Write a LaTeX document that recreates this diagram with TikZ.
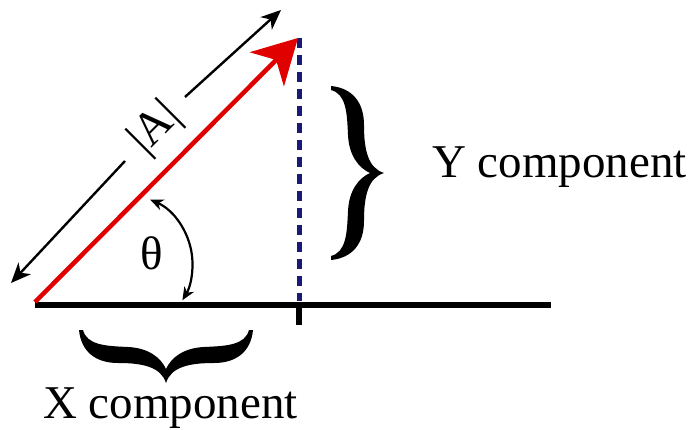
\documentclass[tikz,border=0pt]{standalone}
\usepackage{fontspec}
\setmainfont{Liberation Serif}
\usetikzlibrary{arrows.meta}
\definecolor{vecred}{RGB}{224,0,0}
\definecolor{dashblue}{RGB}{25,25,120}
\tikzset{
  curlybrace/.pic={
    \fill (0,87) .. controls (21,85) and (33,71) .. (33,48)
      .. controls (33,23) and (37,5) .. (53,0)
      .. controls (37,-5) and (33,-23) .. (33,-48)
      .. controls (33,-71) and (21,-85) .. (0,-87)
      -- (0,-83) .. controls (15,-79) and (16,-61) .. (17,-38)
      .. controls (18,-17) and (28,-5) .. (39,0)
      .. controls (28,5) and (18,17) .. (17,38)
      .. controls (16,61) and (15,79) .. (0,83) -- cycle;
  }
}
\begin{document}
\begin{tikzpicture}[x=1pt,y=1pt,
  lbl/.style={inner sep=0pt, font=\fontsize{47}{56}\selectfont},
  axisline/.style={line width=6pt},
  magarrow/.style={line width=2.4pt, -{Stealth[length=20pt,width=17pt,inset=6pt]}},
  anglearrow/.style={line width=2.2pt, {Stealth[length=13pt,width=11pt,inset=4pt]}-{Stealth[length=13pt,width=11pt,inset=4pt]}},
  vecarrow/.style={vecred, line width=4.5pt, -{Stealth[length=44pt,width=48pt,inset=13pt]}},
  dashline/.style={dashblue, line width=5pt, dash pattern=on 10pt off 7pt}
]
\useasboundingbox (0,0) rectangle (691,429);
% base line and tick
\coordinate (O) at (35,124);
\coordinate (E) at (551,124);
\coordinate (F) at (299,124);
\coordinate (T) at (299,104);
\draw[axisline] (O) -- (E);
\draw[axisline] (F) -- (T);
% dashed vertical
\coordinate (Dtop) at (299,391);
\coordinate (Dbot) at (299,128);
\draw[dashline] (Dtop) -- (Dbot);
% red vector
\coordinate (R0) at (35,127);
\coordinate (P) at (298,391);
\draw[vecarrow] (R0) -- (P);
% magnitude arrows
\coordinate (Alo) at (11,146);
\coordinate (Alo2) at (125,268);
\coordinate (Aup2) at (185,332);
\coordinate (Aup) at (281,419);
\node[lbl, rotate=45] (Alab) at (156,300) {|A|};
\draw[magarrow] (Alo2) -- (Alo);
\draw[magarrow] (Aup2) -- (Aup);
% angle
\coordinate (thA) at (150.2,229.3);
\draw[anglearrow] (thA) arc[start angle=66.7, end angle=-31.2, radius=70];
\node[lbl] (theta) at (152,176) {θ};
% braces
\pic at (331,256) {curlybrace};
\pic[rotate=-90] at (166,99) {curlybrace};
% labels
\node[lbl, anchor=base west] (ycomp) at (432,251) {Y component};
\node[lbl, anchor=base west] (xcomp) at (43,11) {X component};
\end{tikzpicture}
\end{document}
